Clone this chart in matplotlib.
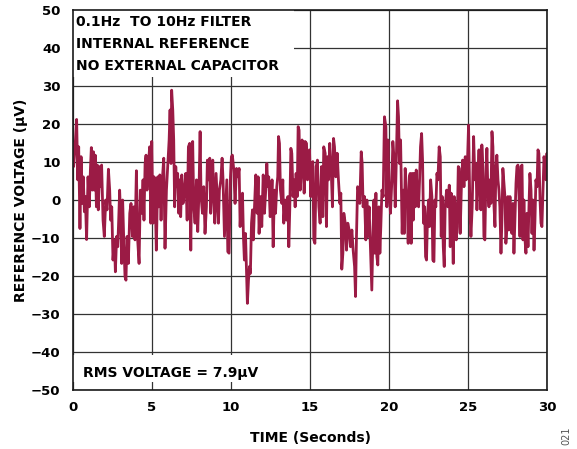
import matplotlib
matplotlib.use("Agg")
import matplotlib.pyplot as plt
from matplotlib.patches import Rectangle

plt.rcParams['font.family'] = ['DejaVu Sans']
plt.rcParams['font.weight'] = 'bold'

# ---- data (time s, voltage uV) ----
trace_0_5 = [(0.00, 14.9), (0.04, 8.8), (0.13, 14.0), (0.23, 21.2), (0.30, 5.3), (0.36, 14.0), (0.44, -7.5),
             (0.51, 11.4), (0.59, -0.9), (0.65, 6.1), (0.72, -3.1), (0.78, 0.9), (0.86, -10.4), (0.95, 6.1),
             (1.03, -1.8), (1.10, 7.9), (1.16, 13.8), (1.22, 2.6), (1.29, 12.7), (1.35, 2.6), (1.41, 11.8),
             (1.48, -1.8), (1.54, 9.2), (1.60, -2.6), (1.69, 8.8), (1.75, 3.5), (1.81, 9.2), (1.90, -5.3),
             (1.98, -9.6), (2.07, 0.0), (2.15, -2.6), (2.24, 8.1), (2.32, 2.6), (2.38, -5.3), (2.45, -1.8),
             (2.53, -15.8), (2.62, -10.5), (2.68, -18.9), (2.76, -9.6), (2.83, -12.3), (2.89, -5.3), (2.95, 2.6),
             (3.02, -5.3), (3.08, -16.7), (3.14, 0.0), (3.21, -10.5), (3.29, -20.2), (3.35, -21.1), (3.42, -9.6),
             (3.50, -16.7), (3.59, -3.5), (3.67, -0.9), (3.76, -9.6), (3.84, -1.8), (3.92, -10.5), (4.01, 7.7),
             (4.09, -10.5), (4.18, -16.7), (4.26, 2.6), (4.35, -3.5), (4.43, 5.3), (4.49, -5.3), (4.56, 9.6),
             (4.62, 11.8), (4.68, 2.6), (4.77, 9.6), (4.85, 14.0), (4.92, -6.1), (4.98, 15.4)]
trace_5_10 = [(5.06, -6.1), (5.13, 6.1), (5.19, 2.6), (5.27, -13.2), (5.36, 6.1), (5.42, -1.8), (5.49, 6.6),
              (5.57, -5.3), (5.65, 5.3), (5.74, 11.0), (5.82, -12.7), (5.91, 2.6), (5.99, 8.8), (6.08, 15.8),
              (6.14, 23.7), (6.20, 9.6), (6.24, 28.9), (6.31, 23.7), (6.37, 15.8), (6.43, -1.8), (6.50, 8.8),
              (6.56, 3.5), (6.62, 7.0), (6.69, -3.5), (6.75, 5.3), (6.81, -4.4), (6.88, 6.6), (6.96, -0.9),
              (7.05, 2.6), (7.13, 7.0), (7.22, -5.3), (7.30, 14.0), (7.38, 14.9), (7.45, -13.2), (7.51, 7.9),
              (7.57, 15.4), (7.64, -1.8), (7.72, -6.1), (7.81, 5.3), (7.89, -8.3), (7.97, 2.6), (8.04, 18.0),
              (8.10, 0.9), (8.19, -3.5), (8.27, 3.5), (8.35, -8.8), (8.44, -1.8), (8.50, 10.5), (8.57, 5.3),
              (8.65, 11.0), (8.71, -3.5), (8.78, 6.1), (8.84, 10.5), (8.90, 0.0), (8.97, -6.1), (9.05, 7.0),
              (9.11, 1.8), (9.20, -6.1), (9.26, 2.6), (9.35, 5.3), (9.43, 11.0), (9.49, 5.3), (9.58, -9.6),
              (9.66, -1.8), (9.73, 5.3), (9.79, -13.6), (9.87, -14.0), (9.96, 6.1)]
trace_10_15 = [(10.02, 11.4), (10.08, 11.8), (10.17, 7.9), (10.25, -0.9), (10.34, 8.3), (10.42, 6.1), (10.51, 8.3),
               (10.57, -7.0), (10.63, -0.9), (10.72, 1.8), (10.78, -9.6), (10.84, -15.8), (10.91, -8.8),
               (10.97, -17.5), (11.03, -27.2), (11.10, -21.1), (11.16, -17.5), (11.22, -19.3), (11.29, -6.1),
               (11.35, -2.6), (11.41, -10.5), (11.48, -1.8), (11.56, 6.6), (11.65, -3.5), (11.71, 6.1),
               (11.77, -8.8), (11.86, 0.9), (11.94, -7.0), (12.03, 6.6), (12.11, -3.5), (12.19, 2.6), (12.26, 9.6),
               (12.32, 3.5), (12.38, 6.1), (12.47, -4.4), (12.53, -1.8), (12.59, 5.3), (12.66, -12.3), (12.74, 2.6),
               (12.81, -3.5), (12.89, 3.5), (12.95, 6.1), (13.00, 16.7), (13.06, 14.9), (13.12, 2.6), (13.21, -0.9),
               (13.27, 5.3), (13.33, -6.1), (13.42, 0.0), (13.50, -5.3), (13.59, 0.9), (13.65, -12.3), (13.71, -2.6),
               (13.78, 13.6), (13.84, 12.3), (13.92, 0.9), (13.99, 5.3), (14.05, -1.8), (14.11, 7.0), (14.18, 0.9),
               (14.24, 19.3), (14.30, 18.4), (14.37, 2.6), (14.43, 6.1), (14.49, 15.8), (14.56, 14.0), (14.62, 1.8),
               (14.68, 15.4), (14.77, 14.9), (14.83, 5.3), (14.89, 7.0), (14.96, 13.2)]
trace_15_20 = [(15.04, 0.9), (15.11, 9.6), (15.17, 10.1), (15.23, -10.5), (15.30, -11.4), (15.38, 8.8), (15.46, 10.5),
               (15.55, -1.8), (15.63, -6.1), (15.72, 8.8), (15.80, -4.4), (15.86, 14.0), (15.95, 12.3), (16.03, -7.0),
               (16.10, 11.4), (16.16, 5.3), (16.24, 14.9), (16.33, 7.9), (16.41, -1.8), (16.48, 16.2), (16.54, 14.0),
               (16.62, 6.1), (16.71, 12.3), (16.79, 5.3), (16.88, -0.9), (16.94, 1.8), (17.00, -18.2), (17.07, -14.0),
               (17.13, -3.5), (17.22, -6.1), (17.30, -13.2), (17.38, -6.1), (17.47, -7.9), (17.55, -12.3),
               (17.64, -7.9), (17.72, -13.2), (17.81, -17.5), (17.87, -25.4), (17.93, -9.6), (18.00, 3.5),
               (18.06, 2.6), (18.14, -0.9), (18.23, 12.7), (18.29, 9.6), (18.35, -1.8), (18.44, 0.9), (18.52, -10.5),
               (18.59, 0.0), (18.65, -9.6), (18.73, -1.8), (18.82, -13.2), (18.90, -23.7), (18.97, -9.6), (19.03, 0.0),
               (19.09, -14.0), (19.16, 1.8), (19.22, -14.9), (19.28, -17.1), (19.35, -1.8), (19.41, -14.0),
               (19.47, -7.0), (19.54, 2.6), (19.62, 0.9), (19.70, 21.9), (19.79, 19.3), (19.85, -1.8), (19.92, 15.8),
               (20.00, 2.6), (20.08, -3.5)]
trace_20_25 = [(20.17, 5.3), (20.23, 15.4), (20.30, 11.4), (20.38, -1.8), (20.46, 12.3), (20.53, 26.1), (20.59, 21.9),
               (20.65, 9.6), (20.72, 15.8), (20.76, 5.3), (20.82, -8.8), (20.89, 2.6), (20.95, -8.8), (21.01, 8.3),
               (21.08, 2.6), (21.14, 0.0), (21.20, -11.4), (21.27, 6.1), (21.33, 7.0), (21.39, -11.4), (21.46, 7.0),
               (21.52, -5.3), (21.58, 7.0), (21.65, -1.8), (21.71, 7.9), (21.77, 2.6), (21.86, -1.8), (21.92, 5.3),
               (21.98, 14.0), (22.05, 17.5), (22.11, 10.5), (22.17, -6.1), (22.24, -1.8), (22.30, -14.9),
               (22.36, -15.8), (22.43, -3.5), (22.49, 0.0), (22.55, -7.0), (22.62, 5.3), (22.70, 0.9), (22.76, -15.8),
               (22.83, -16.2), (22.89, 0.0), (22.95, -1.8), (23.02, 7.0), (23.08, 5.3), (23.16, 14.0), (23.23, 11.4),
               (23.29, -9.6), (23.35, 0.9), (23.42, -12.3), (23.48, -17.5), (23.54, -1.8), (23.63, 2.6), (23.71, -1.8),
               (23.80, 3.9), (23.86, -12.3), (23.92, 1.8), (23.99, -5.3), (24.05, -16.7), (24.11, 0.9), (24.18, -1.8),
               (24.24, -10.5), (24.30, -7.0), (24.37, 8.8), (24.43, 8.3), (24.49, -8.8), (24.56, 2.6), (24.64, 10.5),
               (24.73, 3.5), (24.81, 11.4), (24.87, 5.3), (24.96, 11.4), (25.02, 19.7)]
trace_25_30 = [(25.11, -3.5), (25.17, -9.6), (25.25, -1.8), (25.34, 16.7), (25.42, 5.3), (25.49, 9.6), (25.55, -2.6),
               (25.61, 6.1), (25.68, 13.2), (25.74, 2.6), (25.80, -2.6), (25.86, 14.5), (25.93, 8.8), (25.99, -9.6),
               (26.05, -10.5), (26.12, 6.1), (26.18, 13.6), (26.24, 2.6), (26.31, -1.8), (26.37, 5.3), (26.43, -0.9),
               (26.50, 18.0), (26.56, 14.0), (26.62, -0.9), (26.69, -7.0), (26.75, 8.8), (26.81, 11.8), (26.88, 5.3),
               (26.94, 2.6), (27.00, -1.8), (27.07, -14.0), (27.13, -5.3), (27.19, 8.3), (27.26, 4.4), (27.32, 0.9),
               (27.38, -11.4), (27.45, -7.0), (27.51, 0.9), (27.57, -7.9), (27.64, 0.9), (27.70, -6.1), (27.76, -8.8),
               (27.83, -0.9), (27.89, -14.0), (27.95, -5.3), (28.02, 4.4), (28.08, 8.8), (28.14, 9.2), (28.21, 0.9),
               (28.27, -9.6), (28.33, 8.8), (28.40, 9.2), (28.46, -10.5), (28.52, 0.0), (28.59, -10.5), (28.65, -14.0),
               (28.71, -3.5), (28.78, -12.3), (28.84, -1.8), (28.90, 7.0), (28.97, 2.6), (29.03, -8.8), (29.09, 0.0),
               (29.16, -13.2), (29.22, -5.3), (29.28, 5.3), (29.35, 3.5), (29.41, 13.2), (29.47, 12.3), (29.54, 0.0),
               (29.60, -6.1), (29.66, -7.0), (29.73, 2.6), (29.79, 11.4), (29.85, 9.6), (29.92, 5.3), (29.98, 12.3),
               (30.00, 6.1)]

x_ticks = [0, 5, 10, 15, 20, 25, 30]
y_ticks = [-50, -40, -30, -20, -10, 0, 10, 20, 30, 40, 50]
note_lines = ["0.1Hz  TO 10Hz FILTER", "INTERNAL REFERENCE", "NO EXTERNAL CAPACITOR"]
rms_note = "RMS VOLTAGE = 7.9µV"
x_label = "TIME (Seconds)"
y_label = "REFERENCE VOLTAGE (µV)"
fig_id = "021"

trace = trace_0_5 + trace_5_10 + trace_10_15 + trace_15_20 + trace_20_25 + trace_25_30
t = [p[0] for p in trace]
v = [p[1] for p in trace]

fig = plt.figure(figsize=(5.77, 4.49), dpi=100)
ax = fig.add_axes([73 / 577, 1 - 390 / 449, (547.3 - 73) / 577, 380 / 449])
ax.set_xlim(0, 30)
ax.set_ylim(-50, 50)
ax.set_axisbelow(True)
ax.grid(True, color='#333333', linewidth=0.9)
ax.set_xticks(x_ticks)
ax.set_yticks(y_ticks)
ax.tick_params(length=0, labelsize=9.5, pad=8)
ax.tick_params(axis='y', pad=9)
for s in ax.spines.values():
    s.set_color('#1a1a1a')
    s.set_linewidth(1.2)

# white backgrounds behind the notes
ax.add_patch(Rectangle((0, 32.4), 13.95, 17.6, facecolor='white', edgecolor='none', zorder=1))
ax.add_patch(Rectangle((0, -47.9), 13.8, 7.1, facecolor='white', edgecolor='none', zorder=1))

ax.plot(t, v, color='#9b1b45', linewidth=2.0, zorder=2, solid_joinstyle='round', solid_capstyle='round')

for i, line in enumerate(note_lines):
    ax.text(76 / 577, 1 - (25.7 + 22 * i) / 449, line, transform=fig.transFigure,
            fontsize=10, fontweight='bold', va='baseline', ha='left', zorder=3)
ax.text(83 / 577, 1 - 377 / 449, rms_note, transform=fig.transFigure,
        fontsize=10, fontweight='bold', va='baseline', ha='left', zorder=3)

fig.text(310 / 577, 1 - 442 / 449, x_label, fontsize=10, fontweight='bold', ha='center', va='baseline')
fig.text(21 / 577, 1 - 200 / 449, y_label, fontsize=10, fontweight='bold', ha='center', va='center',
         rotation=90)
fig.text(566 / 577, 1 - 436 / 449, fig_id, fontsize=7, fontweight='normal', color='#555555',
         ha='center', va='center', rotation=90)

fig.savefig('out.png', dpi=100)
